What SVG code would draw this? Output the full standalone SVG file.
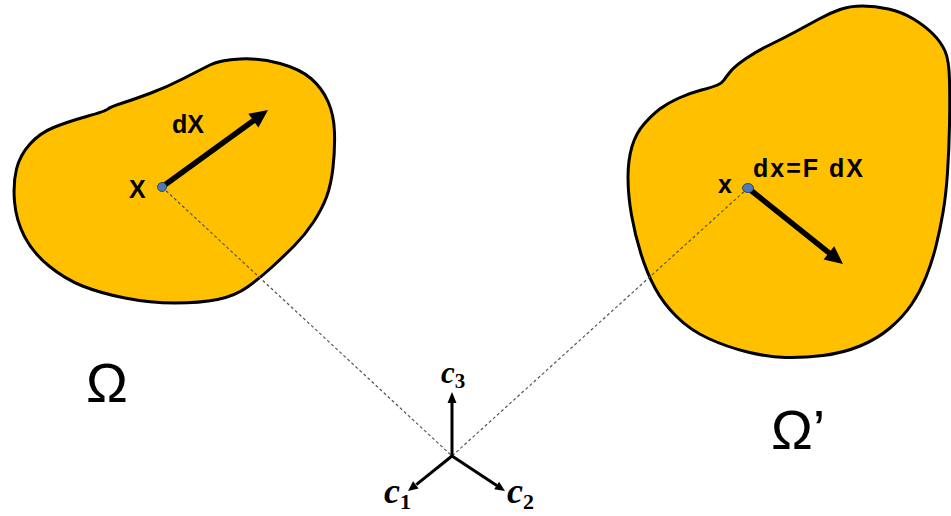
<svg xmlns="http://www.w3.org/2000/svg" width="951" height="516" viewBox="0 0 951 516">
<style>
.blob{fill:#FFC000;stroke:#000;stroke-width:3;stroke-linejoin:round}
.dash{fill:none;stroke:#555;stroke-width:1.2;stroke-dasharray:3 2.5}
.vec{stroke:#000;stroke-width:5.5;fill:none}
.ax{stroke:#000;stroke-width:3;fill:none}
.head{fill:#000}
.pt{fill:#4f7bb3;stroke:#2b4a73;stroke-width:1}
.lbl{font-family:"Liberation Sans",Arial,sans-serif;font-weight:bold;font-size:25px;fill:#000}
.om{font-family:"Liberation Sans",Arial,sans-serif;font-size:56px;fill:#000}
.cv{font-family:"Liberation Serif","Times New Roman",serif;font-weight:bold;fill:#000}
</style>
<rect width="951" height="516" fill="#fff"/>
<g id="omega">
<path class="blob" d="M210,65 Q220,60 240,59 Q260,58 280,63.5 Q300,69 311,78.5 Q322,88 328,101.5 Q334,115 334.5,132.5 Q335,150 333,167.5 Q331,185 326.5,197 Q322,209 313.5,222 Q305,235 294,246 Q283,257 271.5,267.5 Q260,278 247.5,287 Q235,296 217.5,299.5 Q200,303 175,303 Q150,303 125,298 Q100,293 82.5,286 Q65,279 49,266 Q33,253 24.5,236.5 Q16,220 14.5,201.5 Q13,183 16.5,169 Q20,155 30,144 Q40,133 53.5,127.5 Q67,122 86.5,116.5 Q106,111 108,109 Q110,107 122.5,103 Q135,99 151,93 Q167,87 183.5,78.5 Q200,70 210,65 Z"/>
<text class="om" x="86" y="402">Ω</text>
</g>
<g id="omega-prime">
<path class="blob" d="M819,19 Q830,13 840,9.5 Q850,6 862.5,6 Q875,6 888.5,9 Q902,12 913.5,19 Q925,26 933,34 Q941,42 945,51 Q949,60 949.5,80 Q950,100 949.5,125 Q949,150 947.5,172.5 Q946,195 943,212.5 Q940,230 936,246 Q932,262 926,277 Q920,292 911.5,304.5 Q903,317 890,328 Q877,339 860,346 Q843,353 823,355.5 Q803,358 785.5,357.5 Q768,357 747.5,352 Q727,347 708.5,338.5 Q690,330 676.5,316.5 Q663,303 655,288 Q647,273 641,254 Q635,235 631.5,215 Q628,195 628,177.5 Q628,160 632,146.5 Q636,133 644.5,123.5 Q653,114 660.5,108.5 Q668,103 679,98 Q690,93 701.5,90 Q713,87 717.5,85 Q722,83 724,80 Q726,77 730.5,71.5 Q735,66 746,58.5 Q757,51 769.5,45 Q782,39 795,32 Q808,25 819,19 Z"/>
<text class="om" x="771" y="449">Ω’</text>
</g>
<g id="connectors">
<line class="dash" x1="162" y1="187" x2="452" y2="456"/>
<line class="dash" x1="748" y1="188" x2="452" y2="456"/>
</g>
<g id="point-X">
<line class="vec" x1="162" y1="187" x2="255" y2="119.5"/>
<polygon class="head" points="268,110 258.4,127.5 248.4,113.7"/>
<circle class="pt" cx="162" cy="187" r="4.5"/>
<text class="lbl" x="129" y="198">X</text>
<text class="lbl" x="172" y="133">dX</text>
</g>
<g id="point-x">
<line class="vec" x1="748" y1="188" x2="830" y2="253.6"/>
<polygon class="head" points="843,264 823.6,259.4 834.2,246.2"/>
<ellipse class="pt" cx="748" cy="188" rx="5.5" ry="4.5"/>
<text class="lbl" x="718" y="193">x</text>
<text class="lbl" x="753" y="177" textLength="110" lengthAdjust="spacing">dx=F dX</text>
</g>
<g id="axes">
<line class="ax" x1="452" y1="456" x2="452" y2="403"/>
<polygon class="head" points="452,392 447.5,403 456.5,403"/>
<line class="ax" x1="452" y1="456" x2="416.3" y2="484.7"/>
<polygon class="head" points="408,491 418.6,488.4 413,481.2"/>
<line class="ax" x1="452" y1="456" x2="497.5" y2="486"/>
<polygon class="head" points="505,491 494.2,489.3 499.1,481.7"/>
<text class="cv" x="441" y="383"><tspan font-style="italic" font-size="31">c</tspan><tspan font-size="21" dy="5">3</tspan></text>
<text class="cv" x="384" y="503"><tspan font-style="italic" font-size="36">c</tspan><tspan font-size="22" dy="6">1</tspan></text>
<text class="cv" x="507" y="503"><tspan font-style="italic" font-size="36">c</tspan><tspan font-size="22" dy="6">2</tspan></text>
</g>
</svg>
